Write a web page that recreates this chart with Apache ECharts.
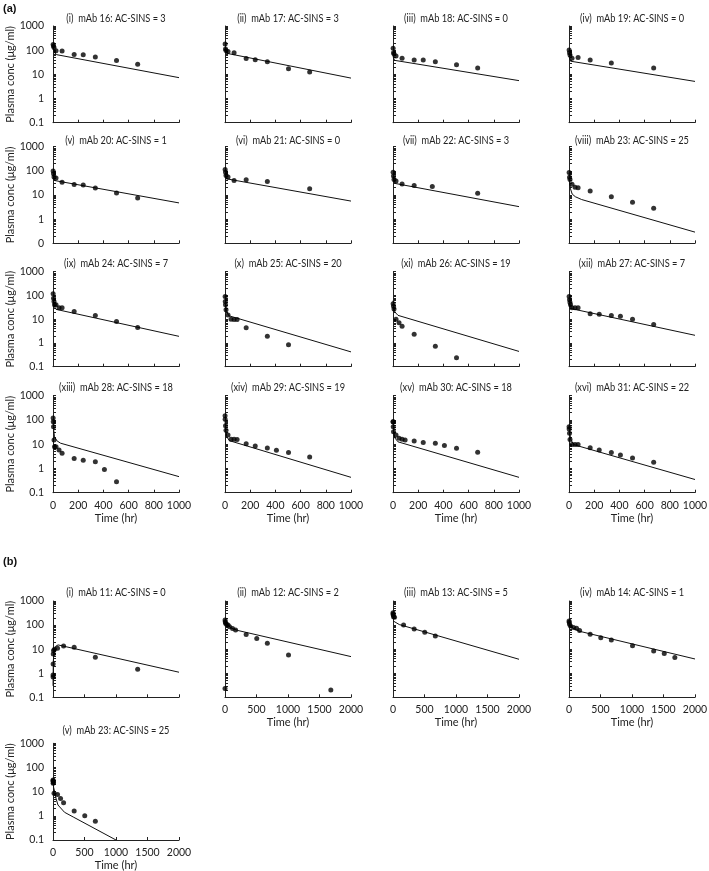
<!DOCTYPE html>
<html><head><meta charset="utf-8">
<script src="https://cdn.jsdelivr.net/npm/echarts@6/dist/echarts.min.js"></script>
<style>html,body{margin:0;padding:0;background:#fff}#c{width:709px;height:871px}</style>
</head><body><div id="c"></div>
<script>
// ---------- titles ----------
const titles_a = [
  "(i)  mAb 16: AC-SINS = 3", "(ii)  mAb 17: AC-SINS = 3", "(iii)  mAb 18: AC-SINS = 0", "(iv)  mAb 19: AC-SINS = 0",
  "(v)  mAb 20: AC-SINS = 1", "(vi)  mAb 21: AC-SINS = 0", "(vii)  mAb 22: AC-SINS = 3", "(viii)  mAb 23: AC-SINS = 25",
  "(ix)  mAb 24: AC-SINS = 7", "(x)  mAb 25: AC-SINS = 20", "(xi)  mAb 26: AC-SINS = 19", "(xii)  mAb 27: AC-SINS = 7",
  "(xiii)  mAb 28: AC-SINS = 18", "(xiv)  mAb 29: AC-SINS = 19", "(xv)  mAb 30: AC-SINS = 18", "(xvi)  mAb 31: AC-SINS = 22"
];
const titles_b = [
  "(i)  mAb 11: AC-SINS = 0", "(ii)  mAb 12: AC-SINS = 2", "(iii)  mAb 13: AC-SINS = 5", "(iv)  mAb 14: AC-SINS = 1",
  "(v)  mAb 23: AC-SINS = 25"
];
const yTickValues = [0.1, 1, 10, 100, 1000];
const yTickLabels = ["0.1", "1", "10", "100", "1000"];
const yTickLabelsRow2 = ["0", "1", "10", "100", "1000"];
const yAxisName = "Plasma conc (μg/ml)";
const xAxisName = "Time (hr)";

// ---------- (a) observed [time hr, conc] and model lines ----------
const obs_a1 = [[1,170],[4,150],[8,130],[24,95],[72,92],[168,66],[240,65],[336,52],[504,37],[672,26]];
const fit_a1 = [[0,160],[10,80],[30,65],[1000,7.3]];
const obs_a2 = [[1,180],[4,113],[8,97],[24,88],[72,78],[168,45],[240,40],[336,33],[504,17],[672,12.5]];
const fit_a2 = [[0,110],[10,75],[20,66],[1000,7]];
const obs_a3 = [[1,119],[4,79],[8,69],[24,57],[72,46],[168,39],[240,39],[336,33],[504,25],[672,18.3]];
const fit_a3 = [[0,55],[12,38],[1000,5.5]];
const obs_a4 = [[1,102],[4,79],[8,63],[24,46],[72,50],[168,39],[336,29.4],[672,18.3]];
const fit_a4 = [[0,55],[12,35],[1000,5.1]];
const obs_a5 = [[1,98],[4,75],[8,55],[24,51],[72,34],[168,27.5],[240,26],[336,19.4],[504,12],[672,7.5]];
const fit_a5 = [[0,70],[10,40],[1000,4.7]];
const obs_a6 = [[1,113],[4,88],[8,64],[24,55],[72,40],[168,43],[336,36],[672,18]];
const fit_a6 = [[0,70],[10,47],[1000,5.6]];
const obs_a7 = [[1,87],[4,61],[8,44],[24,38],[72,28.5],[168,24.5],[312,22.6],[672,11.7]];
const fit_a7 = [[0,60],[18,30],[1000,3.3]];
const obs_a8 = [[1,85],[4,54],[8,44],[24,27.6],[48,20.7],[72,20],[168,14.6],[336,8.5],[504,5],[672,2.8]];
const fit_a8 = [[0,80],[5,35],[12,18],[25,11],[50,8.5],[100,6.5],[1000,0.29]];
const obs_a9 = [[1,117],[4,77],[8,56],[12,41],[24,41],[48,30],[72,30],[168,21],[336,14.2],[504,8],[672,4.5]];
const fit_a9 = [[0,80],[10,35],[24,26],[1000,1.9]];
const obs_a10 = [[1,91],[2,56],[4,41],[8,25],[24,15],[48,10],[72,9.6],[96,9.6],[168,4.35],[336,1.9],[504,0.83]];
const fit_a10 = [[0,100],[5,40],[12,22],[30,14],[1000,0.42]];
const obs_a11 = [[1,45],[4,35],[8,27],[24,10],[48,7.1],[72,5.1],[168,2.3],[336,0.73],[504,0.24]];
const fit_a11 = [[0,60],[5,35],[15,20],[40,14.5],[1000,0.44]];
const obs_a12 = [[1,91],[4,66],[8,51],[12,41],[24,30],[48,30],[72,30],[168,17],[240,16],[336,14.2],[408,13.3],[504,10],[672,6]];
const fit_a12 = [[0,70],[10,33],[30,27],[1000,2.1]];
const obs_a13 = [[1,120],[2,85],[4,53],[8,14.8],[12,7.9],[24,7.9],[48,5.8],[72,4.2],[168,2.6],[240,2.2],[336,1.9],[408,0.9],[504,0.28]];
const fit_a13 = [[0,100],[5,40],[12,20],[30,14],[60,11],[1000,0.46]];
const obs_a14 = [[0.5,150],[1,106],[4,58],[8,38],[24,24],[48,16],[72,16],[96,15.5],[168,10.5],[240,8.4],[336,7],[408,5.6],[504,4.5],[672,3]];
const fit_a14 = [[0,100],[5,40],[15,20],[35,14],[1000,0.43]];
const obs_a15 = [[0.5,85],[1,85],[2,53],[4,33],[24,24],[48,17.5],[72,16],[96,15],[168,13.6],[240,11.7],[336,10.9],[408,8.9],[504,6.8],[672,4.7]];
const fit_a15 = [[0,80],[5,35],[15,18],[40,12.5],[1000,0.43]];
const obs_a16 = [[0.5,53],[1,42],[4,28],[8,15.8],[24,9.8],[48,9.8],[72,9.8],[168,7.2],[240,5.8],[336,4.6],[408,3.6],[504,2.7],[672,1.8]];
const fit_a16 = [[0,60],[5,30],[15,15],[40,9.5],[1000,0.35]];

// ---------- (b) ----------
const obs_b1 = [[0.5,0.85],[1,0.7],[2,2.4],[4,6.3],[8,8.7],[24,10],[72,10.8],[168,13.5],[336,12],[672,4.6],[1344,1.45]];
const fit_b1 = [[0.5,0.3],[5,3],[15,9],[40,13],[80,15],[2000,1.1]];
const obs_b2 = [[0,0.23],[1,163],[4,138],[8,118],[24,108],[48,100],[72,86],[120,72],[168,63],[336,41],[504,28],[672,17.6],[1008,5.7],[1680,0.2]];
const fit_b2 = [[0,160],[10,130],[40,100],[100,75],[200,60],[2000,4.9]];
const obs_b3 = [[0.5,328],[1,290],[4,262],[8,224],[24,210],[168,101],[336,69],[504,50],[672,35]];
const fit_b3 = [[0,150],[30,125],[100,105],[2000,3.8]];
const obs_b4 = [[0.5,148],[4,130],[8,108],[24,92],[72,80],[120,73],[168,59],[336,41.5],[504,30],[672,24],[1008,14],[1344,8.4],[1512,6.6],[1680,4.5]];
const fit_b4 = [[0,120],[20,90],[80,70],[170,55],[2000,3.9]];
const obs_b5 = [[0.5,28],[1,30],[2,22],[4,26],[8,24],[16,8.6],[72,7.6],[120,5.2],[168,3.5],[336,1.6],[504,1.0],[672,0.6]];
const fit_b5 = [[0,25],[10,15],[26,10],[50,5],[79,2.8],[183,1.4],[330,0.87],[1000,0.1]];

// ---------- layout ----------
const FONT = "Lato, 'Open Sans', sans-serif";
const colX = [53, 225, 393, 569];
const W = 126;
const aRows = [{top:26,h:96.7,tc:18},{top:146.7,h:96.6,tc:140},{top:271.7,h:95,tc:263},{top:395.7,h:97,tc:387}];
const bRows = [{top:601,h:96.3,tc:592},{top:743.3,h:96.7,tc:730}];
const obsA = [obs_a1,obs_a2,obs_a3,obs_a4,obs_a5,obs_a6,obs_a7,obs_a8,obs_a9,obs_a10,obs_a11,obs_a12,obs_a13,obs_a14,obs_a15,obs_a16];
const fitA = [fit_a1,fit_a2,fit_a3,fit_a4,fit_a5,fit_a6,fit_a7,fit_a8,fit_a9,fit_a10,fit_a11,fit_a12,fit_a13,fit_a14,fit_a15,fit_a16];
const obsB = [obs_b1,obs_b2,obs_b3,obs_b4,obs_b5];
const fitB = [fit_b1,fit_b2,fit_b3,fit_b4,fit_b5];

const panels = [];
for (let i = 0; i < 16; i++) {
  const r = Math.floor(i/4), c = i%4;
  panels.push({title: titles_a[i], obs: obsA[i], fit: fitA[i], col: c, row: aRows[r], xmax: 1000, xint: 200,
    xlab: r === 3, ylab: c === 0, labels: r === 1 ? yTickLabelsRow2 : yTickLabels});
}
for (let i = 0; i < 5; i++) {
  const r = Math.floor(i/4), c = i%4;
  panels.push({title: titles_b[i], obs: obsB[i], fit: fitB[i], col: c, row: bRows[r], xmax: 2000, xint: 500,
    xlab: !(r === 0 && c === 0), ylab: c === 0, labels: yTickLabels});
}

const yMinor = [];
for (let e = -1; e < 3; e++) for (let m = 1; m < 10; m++) yMinor.push(+(m * Math.pow(10, e)).toPrecision(3));
yMinor.push(1000);

const option = {
  backgroundColor: '#fff',
  animation: false,
  textStyle: {fontFamily: FONT},
  title: [], grid: [], xAxis: [], yAxis: [], series: [], graphic: {elements: []}
};
option.title.push({text: '(a)', left: 3, top: 3, padding: 0, textStyle: {fontFamily: 'Liberation Sans, Arial, sans-serif', fontSize: 11, fontWeight: 'bold', color: '#111'}});
option.title.push({text: '(b)', left: 3, top: 556, padding: 0, textStyle: {fontFamily: 'Liberation Sans, Arial, sans-serif', fontSize: 11, fontWeight: 'bold', color: '#111'}});

panels.forEach((p, k) => {
  const left = colX[p.col];
  option.graphic.elements.push({type: 'text', x: left + W/2, y: p.row.tc, scaleX: 0.84, silent: true,
    style: {text: p.title, fontFamily: FONT, fontSize: 11, fill: '#222', textAlign: 'center', textVerticalAlign: 'middle'}});
  option.grid.push({left: left, top: p.row.top, width: W, height: p.row.h, containLabel: false, outerBoundsMode: 'none'});
  option.xAxis.push({
    type: 'value', gridIndex: k, min: 0, max: p.xmax, interval: p.xint,
    name: p.xlab ? xAxisName : '', nameLocation: 'middle', nameGap: 20,
    nameTextStyle: {fontFamily: FONT, fontSize: 11, color: '#222'},
    axisLine: {show: true, lineStyle: {color: '#222', width: 1}},
    axisTick: {show: true, inside: true, length: 3, lineStyle: {color: '#222'}},
    axisLabel: {show: p.xlab, fontFamily: FONT, fontSize: 10.5, color: '#222', margin: 7, formatter: v => String(v)},
    splitLine: {show: false}
  });
  const labs = p.labels;
  option.yAxis.push({
    type: 'log', logBase: 10, gridIndex: k, min: 0.1, max: 1000,
    name: p.ylab ? yAxisName : '', nameLocation: 'middle', nameGap: 31,
    nameTextStyle: {fontFamily: FONT, fontSize: 11, color: '#222'},
    axisLine: {show: true, lineStyle: {color: '#222', width: 1}},
    axisTick: {show: true, inside: true, length: 3, customValues: yMinor, lineStyle: {color: '#222'}},
    axisLabel: {show: p.ylab, fontFamily: FONT, fontSize: 10.5, color: '#222', margin: 9,
      formatter: v => { const idx = yTickValues.findIndex(t => Math.abs(Math.log10(t) - Math.log10(v)) < 1e-6); return idx >= 0 ? labs[idx] : ''; }},
    splitLine: {show: false}
  });
  option.series.push({type: 'line', xAxisIndex: k, yAxisIndex: k, data: p.fit, showSymbol: false, symbol: 'none',
    lineStyle: {color: '#111', width: 1}, silent: true, z: 2});
  option.series.push({type: 'scatter', xAxisIndex: k, yAxisIndex: k, data: p.obs, symbol: 'circle', symbolSize: 5,
    itemStyle: {color: '#000'}, silent: true, z: 3});
});

const chart = echarts.init(document.getElementById('c'), null, {renderer: 'canvas'});
chart.setOption(option);
</script>
</body></html>
